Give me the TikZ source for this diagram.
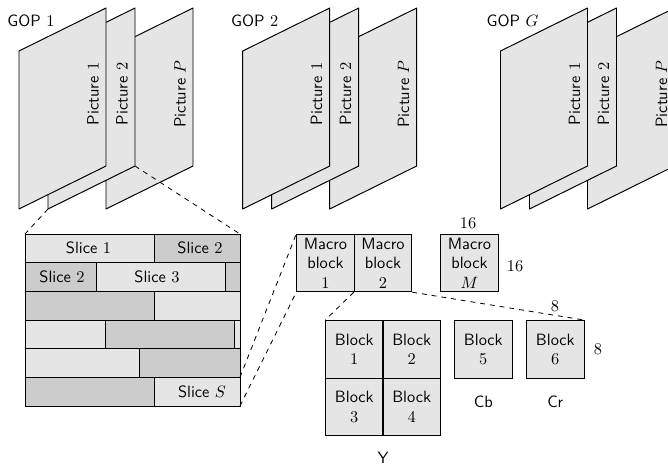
\documentclass[tikz,border=0pt]{standalone}
\renewcommand{\familydefault}{\sfdefault}
\begin{document}
\begin{tikzpicture}[x=0.61pt,y=-0.61pt,
  every node/.style={font=\sffamily},
  sheet/.style={draw, fill=gray!20, line width=0.6pt, line join=round},
  light/.style={draw, fill=gray!20, line width=0.6pt},
  dark/.style={draw, fill=gray!40, line width=0.6pt},
  mblock/.style={draw, fill=gray!20, line width=0.6pt, minimum size=35pt,
    inner sep=1pt, align=center},
  link/.style={dashed, line width=0.5pt}]
\useasboundingbox (0,0) rectangle (668,466);

% Groups of pictures, each drawn back to front
\foreach \gx/\glab/\g in {19/1/a, 242.7/2/b, 500.5/G/c} {
  \foreach \off/\plab/\p in {87/P/3, 29/2/2, 0/1/1} {
    \path[sheet] (\gx+\off,209) coordinate (\g\p bl) -- (\gx+\off,51)
      -- (\gx+\off+87,8) -- (\gx+\off+87,166) coordinate (\g\p br) -- cycle;
    \node[rotate=90, anchor=base] (\g\p txt) at (\gx+\off+79.5,94) {Picture $\plab$};
  }
  \node[anchor=base] (\g lab) at (\gx+12,26.7) {GOP $\glab$};
}

% Slices of one picture
\path[light] (25,234) rectangle (154,262.7);
\path[dark]  (154,234) rectangle (240,262.7);
\path[dark]  (25,262.7) rectangle (96.7,291.3);
\path[light] (96.7,262.7) rectangle (225.7,291.3);
\path[dark]  (225.7,262.7) rectangle (240,291.3);
\path[dark]  (25,291.3) rectangle (154,320);
\path[light] (154,291.3) rectangle (240,320);
\path[light] (25,320) rectangle (105.3,348.7);
\path[dark]  (105.3,320) rectangle (234.3,348.7);
\path[light] (234.3,320) rectangle (240,348.7);
\path[light] (25,348.7) rectangle (139.7,377.3);
\path[dark]  (139.7,348.7) rectangle (240,377.3);
\path[dark]  (25,377.3) rectangle (154,406);
\path[light] (154,377.3) rectangle (240,406);
\draw[line width=0.6pt] (25,234) coordinate (gridnw) rectangle (240,406);
\coordinate (gridne) at (240,234);
\coordinate (slicene) at (240,377.3);
\coordinate (slicese) at (240,406);

\node (s1)  at (88.5,248.3) {Slice $1$};
\node (s2a) at (200,248.3) {Slice $2$};
\node (s2b) at (62,277) {Slice $2$};
\node (s3)  at (157,277) {Slice $3$};
\node (sS)  at (202,391.7) {Slice $S$};

% Macroblocks
\node[mblock] (mb1) at (325.5,263) {Macro\\block\\$1$};
\node[mblock] (mb2) at (383,263) {Macro\\block\\$2$};
\node[mblock] (mbM) at (469.5,263) {Macro\\block\\$M$};
\node (mbw) at (468,223) {$16$};
\node (mbh) at (515,266) {$16$};

% Blocks
\node[mblock] (b1) at (354.3,349.3) {Block\\$1$};
\node[mblock] (b2) at (411.7,349.3) {Block\\$2$};
\node[mblock] (b3) at (354.3,406.7) {Block\\$3$};
\node[mblock] (b4) at (411.7,406.7) {Block\\$4$};
\node[mblock] (b5) at (483.3,349.3) {Block\\$5$};
\node[mblock] (b6) at (555.3,349.3) {Block\\$6$};
\node (bw) at (555,306) {$8$};
\node (bh) at (598,349) {$8$};
\node (cb) at (483.3,401.3) {Cb};
\node (cr) at (555.3,401.3) {Cr};
\node (yl) at (383,457.5) {Y};

% Zoom connectors
\draw[link] (a2bl) -- (gridnw);
\draw[link] (a2br) -- (gridne);
\draw[link] (slicene) -- (mb1.north west);
\draw[link] (slicese) -- (mb1.south west);
\draw[link] (mb2.south west) -- (b1.north west);
\draw[link] (mb2.south east) -- (b6.north east);
\end{tikzpicture}
\end{document}
